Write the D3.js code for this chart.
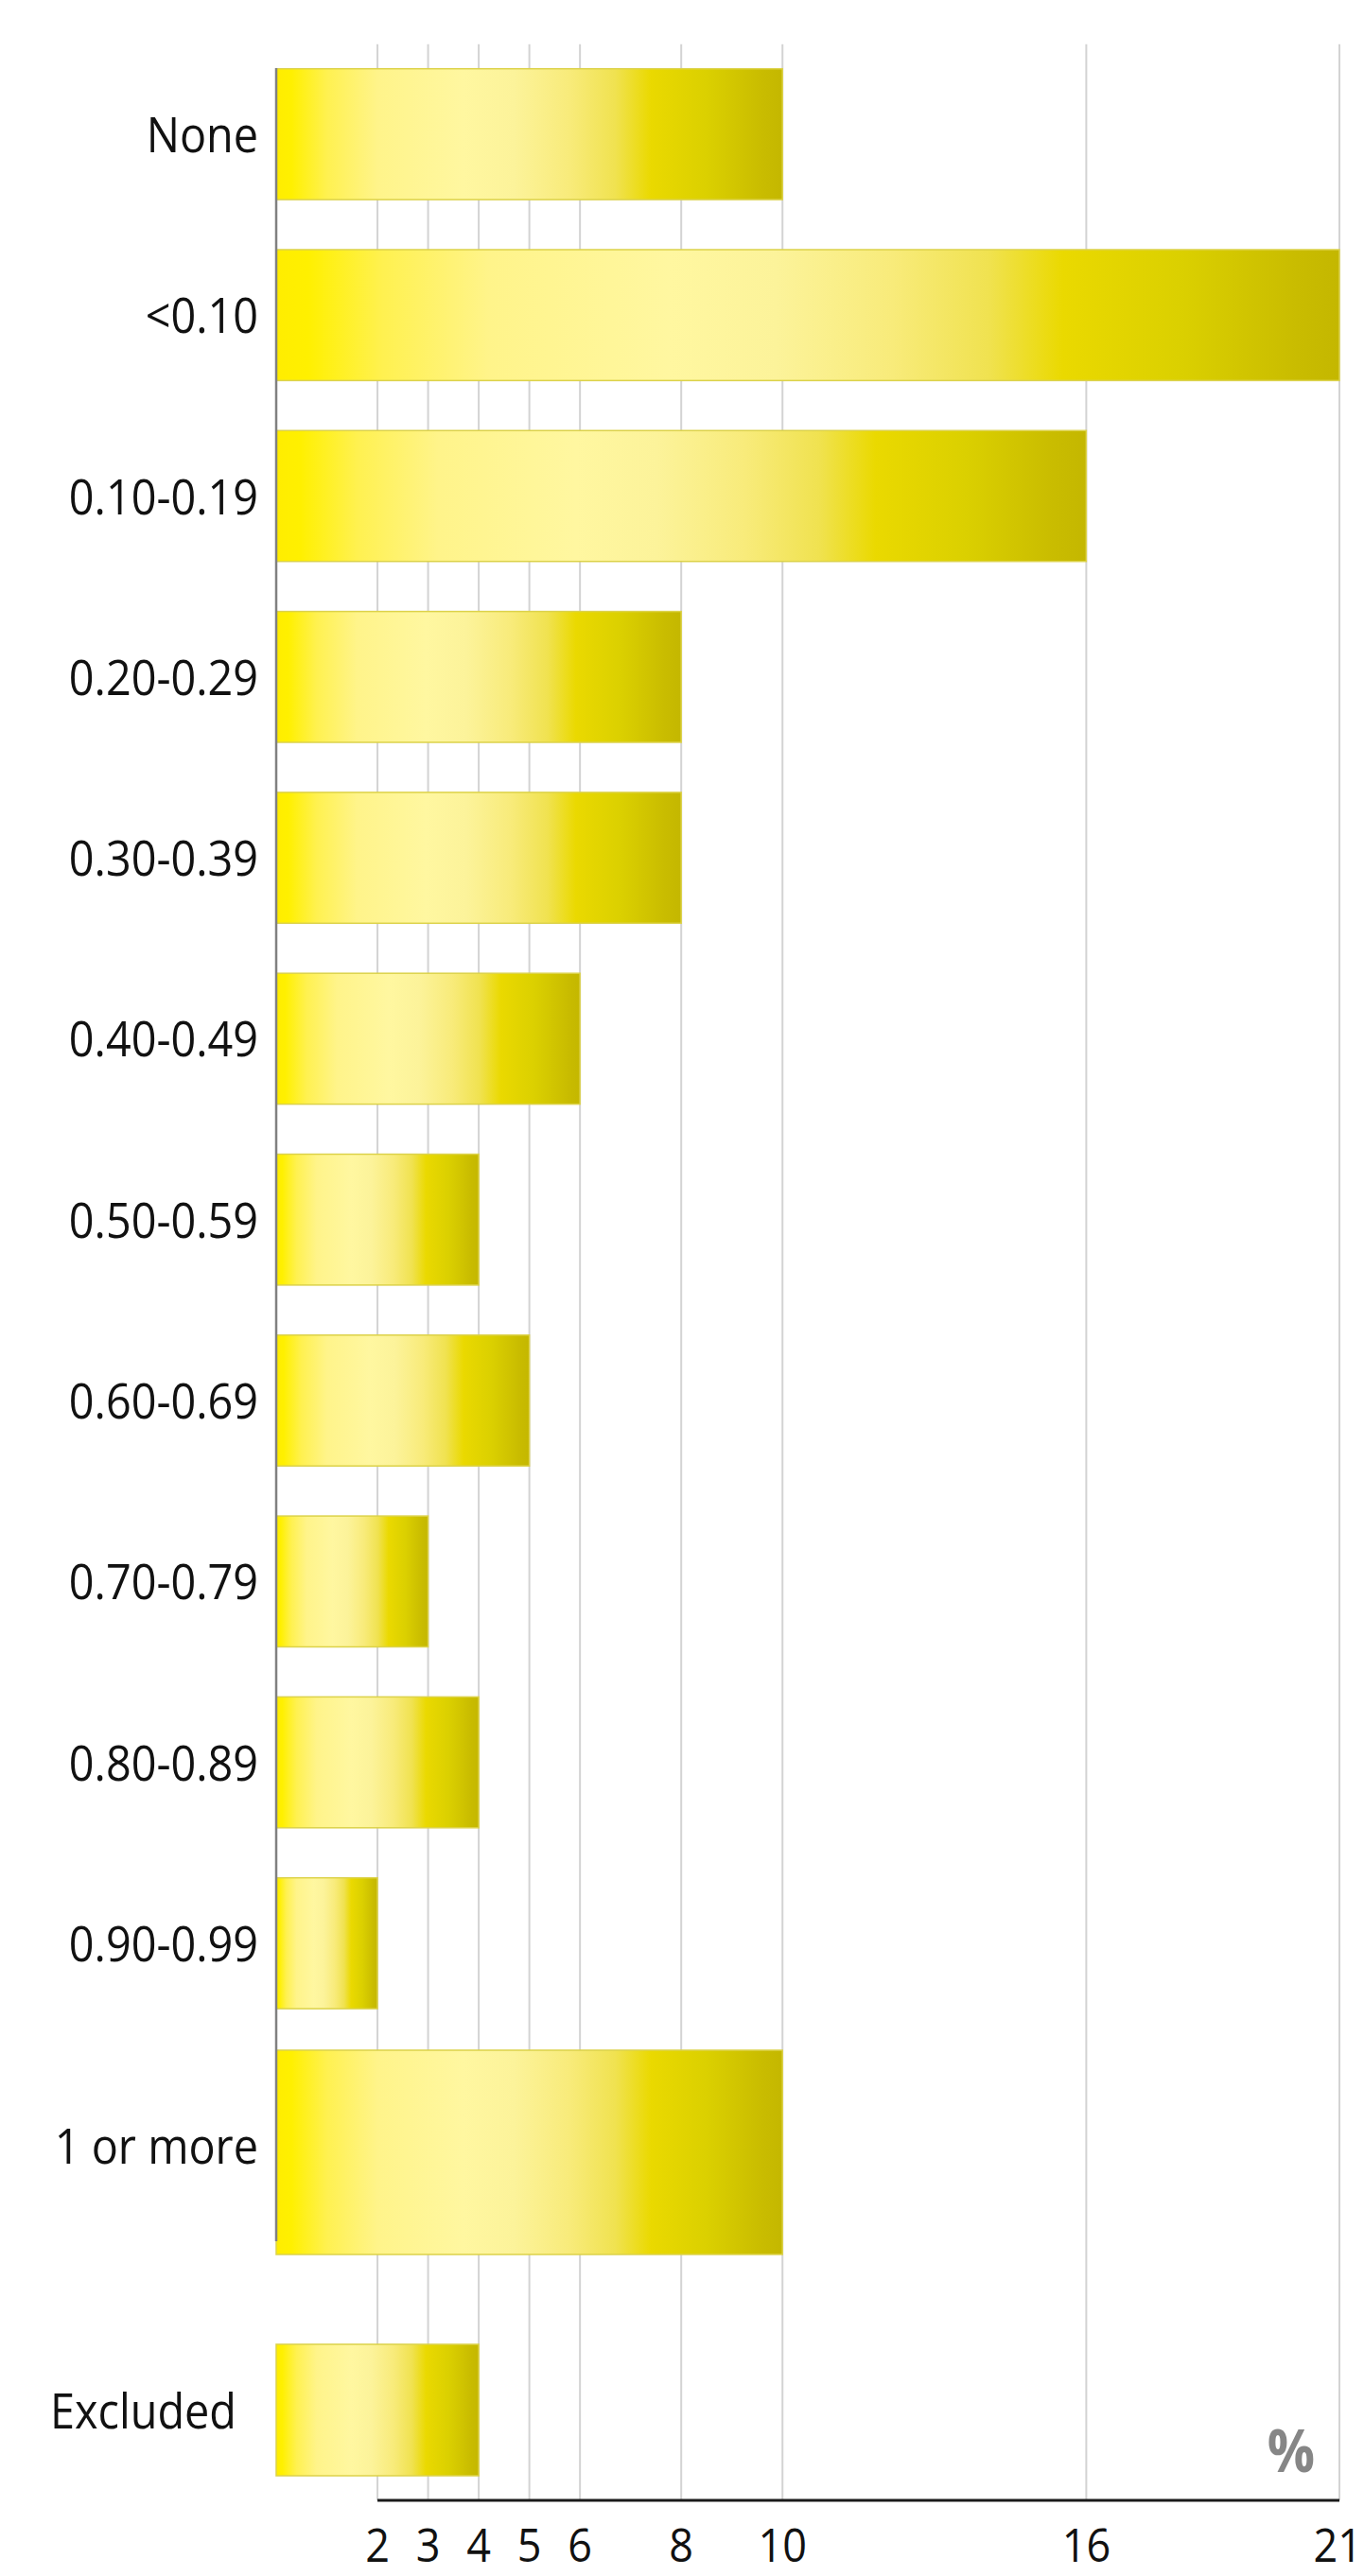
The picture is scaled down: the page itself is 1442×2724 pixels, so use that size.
<!DOCTYPE html>
<html>
<head>
<meta charset="utf-8">
<script src="https://cdn.jsdelivr.net/npm/d3@7"></script>
<style>
  html, body { margin: 0; padding: 0; background: #ffffff; }
  svg { display: block; }
</style>
</head>
<body>
<script>
// ---- Data ----
const categories = ["None", "<0.10", "0.10-0.19", "0.20-0.29", "0.30-0.39", "0.40-0.49",
  "0.50-0.59", "0.60-0.69", "0.70-0.79", "0.80-0.89", "0.90-0.99", "1 or more", "Excluded"];
const values = [10, 21, 16, 8, 8, 6, 4, 5, 3, 4, 2, 10, 4];
const tickValues = [2, 3, 4, 5, 6, 8, 10, 16, 21];
const unitLabel = "%";

// ---- Layout ----
const W = 1442, H = 2724;
const svg = d3.select("body").append("svg").attr("width", W).attr("height", H);

const x = d3.scaleLinear().domain([0, 21]).range([292, 1416]);

const regular = categories.slice(0, 11);
const step = 191.3;
const yBand = d3.scaleBand().domain(regular)
  .range([46.25, 46.25 + step * regular.length])
  .paddingInner(0.2765).paddingOuter(0.2765 / 2);

// special rows
const special = {
  "1 or more": { y: 2168, h: 216 },
  "Excluded": { y: 2479, h: 139 }
};
function rowY(c) { return special[c] ? special[c].y : yBand(c); }
function rowH(c) { return special[c] ? special[c].h : yBand.bandwidth(); }

const rows = categories.map((c, i) => ({ c, v: values[i] }));

// gradient
const defs = svg.append("defs");
const grad = defs.append("linearGradient").attr("id", "barGrad")
  .attr("x1", 0).attr("x2", 1).attr("y1", 0).attr("y2", 0);
[[0, "#FFED00"], [0.03, "#FFF000"], [0.1, "#FFF150"], [0.2, "#FFF48A"], [0.37, "#FFF7A0"],
 [0.47, "#FCF39A"], [0.58, "#F8EB7A"], [0.67, "#F0E250"], [0.74, "#EAD900"],
 [0.85, "#DBD000"], [0.96, "#C9BC00"], [1, "#C4B700"]]
  .forEach(([o, col]) => grad.append("stop").attr("offset", o).attr("stop-color", col));

const gridTop = 46.7, axisY = 2644;

// gridlines
svg.append("g").selectAll("line").data(tickValues).join("line")
  .attr("x1", d => x(d)).attr("x2", d => x(d))
  .attr("y1", gridTop).attr("y2", axisY)
  .attr("stroke", "#d3d3d3").attr("stroke-width", 2);

// bars
svg.append("g").selectAll("rect").data(rows).join("rect")
  .attr("x", x(0))
  .attr("y", d => rowY(d.c))
  .attr("width", d => x(d.v) - x(0))
  .attr("height", d => rowH(d.c))
  .attr("fill", "url(#barGrad)")
  .attr("stroke", "#dcd24a").attr("stroke-width", 1.5);

// vertical axis line
svg.append("line")
  .attr("x1", x(0)).attr("x2", x(0))
  .attr("y1", 72).attr("y2", 2370)
  .attr("stroke", "#808080").attr("stroke-width", 2.5);

// bottom axis line
svg.append("line")
  .attr("x1", x(tickValues[0])).attr("x2", x(tickValues[tickValues.length - 1]))
  .attr("y1", axisY).attr("y2", axisY)
  .attr("stroke", "#1a1a1a").attr("stroke-width", 3);

const FONT = "'Open Sans', 'Noto Sans', sans-serif";
const SX = 0.9;

// category labels
svg.append("g").selectAll("text").data(rows).join("text")
  .attr("transform", d => {
    const cy = rowY(d.c) + rowH(d.c) / 2;
    const lx = d.c === "Excluded" ? 250 : 273;
    const dy = d.c === "1 or more" ? 12 : 19;
    return `translate(${lx},${cy + dy}) scale(${SX},1)`;
  })
  .attr("text-anchor", "end")
  .attr("font-family", FONT).attr("font-size", 52)
  .attr("fill", "#111")
  .text(d => d.c);

// tick labels
const lastTick = tickValues[tickValues.length - 1];
svg.append("g").selectAll("text").data(tickValues).join("text")
  .attr("transform", d => d === lastTick
    ? `translate(${W - 2},2709) scale(${SX},1)`
    : `translate(${x(d)},2709) scale(${SX},1)`)
  .attr("text-anchor", d => d === lastTick ? "end" : "middle")
  .attr("font-family", FONT).attr("font-size", 50)
  .attr("fill", "#111")
  .text(d => d);

// unit label
svg.append("text")
  .attr("transform", `translate(1390,2614) scale(${SX},1)`)
  .attr("text-anchor", "end")
  .attr("font-family", FONT).attr("font-size", 62).attr("font-weight", "bold")
  .attr("fill", "#868686")
  .text(unitLabel);
</script>
</body>
</html>
